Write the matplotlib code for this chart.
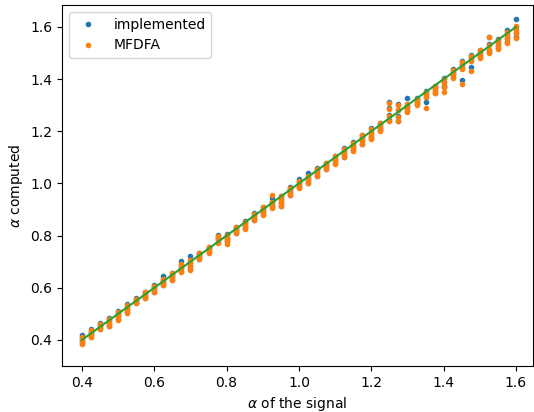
import matplotlib.pyplot as plt

# alpha values of the generated signals
alphas = [0.4 + 0.025 * i for i in range(49)]

# estimated alpha, our implementation (several signals per alpha)
implemented = [
    [0.388, 0.398, 0.410, 0.420], [0.413, 0.422, 0.432, 0.440], [0.442, 0.450, 0.458, 0.465],
    [0.455, 0.465, 0.475, 0.485], [0.482, 0.492, 0.502, 0.510], [0.508, 0.518, 0.527, 0.536],
    [0.541, 0.547, 0.553, 0.560], [0.562, 0.570, 0.578, 0.585], [0.585, 0.594, 0.602, 0.610],
    [0.612, 0.622, 0.630, 0.645], [0.630, 0.640, 0.650, 0.658], [0.665, 0.675, 0.685, 0.702],
    [0.672, 0.684, 0.698, 0.720], [0.712, 0.720, 0.728, 0.735], [0.736, 0.744, 0.752, 0.758],
    [0.774, 0.786, 0.794, 0.802], [0.778, 0.785, 0.795, 0.806], [0.810, 0.818, 0.826, 0.834],
    [0.828, 0.838, 0.847, 0.855], [0.860, 0.868, 0.878, 0.886], [0.882, 0.892, 0.902, 0.910],
    [0.908, 0.918, 0.930, 0.945], [0.915, 0.928, 0.940, 0.952], [0.957, 0.967, 0.977, 0.985],
    [0.985, 0.995, 1.004, 1.018], [1.003, 1.013, 1.022, 1.040], [1.030, 1.040, 1.050, 1.058],
    [1.057, 1.064, 1.072, 1.080], [1.078, 1.088, 1.098, 1.106], [1.103, 1.113, 1.125, 1.134],
    [1.128, 1.138, 1.148, 1.158], [1.153, 1.165, 1.177, 1.187], [1.173, 1.183, 1.198, 1.212],
    [1.203, 1.213, 1.223, 1.232], [1.243, 1.263, 1.288, 1.312], [1.241, 1.258, 1.283, 1.305],
    [1.278, 1.288, 1.298, 1.326], [1.303, 1.312, 1.320, 1.328], [1.314, 1.332, 1.342, 1.353],
    [1.348, 1.358, 1.367, 1.375], [1.370, 1.373, 1.388, 1.403], [1.408, 1.418, 1.428, 1.438],
    [1.395, 1.443, 1.458, 1.468], [1.447, 1.472, 1.483, 1.493], [1.483, 1.493, 1.503, 1.513],
    [1.503, 1.513, 1.533, 1.562], [1.518, 1.530, 1.543, 1.552], [1.543, 1.558, 1.573, 1.590],
    [1.560, 1.578, 1.600, 1.632],
]

# estimated alpha, MFDFA package
mfdfa = [
    [0.385, 0.395, 0.405, 0.412], [0.410, 0.420, 0.430, 0.438], [0.440, 0.448, 0.456, 0.462],
    [0.452, 0.462, 0.472, 0.482], [0.478, 0.488, 0.498, 0.508], [0.505, 0.515, 0.524, 0.532],
    [0.540, 0.546, 0.552, 0.557], [0.560, 0.568, 0.576, 0.582], [0.582, 0.592, 0.600, 0.606],
    [0.610, 0.620, 0.628, 0.634], [0.628, 0.638, 0.648, 0.656], [0.662, 0.672, 0.682, 0.690],
    [0.668, 0.680, 0.694, 0.708], [0.710, 0.718, 0.726, 0.732], [0.734, 0.742, 0.750, 0.756],
    [0.772, 0.784, 0.792, 0.800], [0.768, 0.780, 0.792, 0.804], [0.808, 0.816, 0.824, 0.832],
    [0.825, 0.835, 0.845, 0.852], [0.858, 0.866, 0.876, 0.884], [0.880, 0.890, 0.900, 0.908],
    [0.905, 0.915, 0.928, 0.955], [0.912, 0.925, 0.938, 0.950], [0.955, 0.965, 0.975, 0.982],
    [0.982, 0.992, 1.000, 1.008], [1.000, 1.010, 1.020, 1.028], [1.028, 1.038, 1.048, 1.055],
    [1.055, 1.062, 1.070, 1.078], [1.075, 1.085, 1.095, 1.104], [1.100, 1.110, 1.122, 1.132],
    [1.125, 1.135, 1.145, 1.155], [1.150, 1.162, 1.175, 1.185], [1.170, 1.180, 1.195, 1.210],
    [1.200, 1.210, 1.220, 1.230], [1.240, 1.260, 1.285, 1.310], [1.238, 1.255, 1.280, 1.302],
    [1.275, 1.285, 1.295, 1.305], [1.300, 1.310, 1.318, 1.325], [1.288, 1.330, 1.340, 1.350],
    [1.345, 1.355, 1.365, 1.372], [1.350, 1.370, 1.385, 1.400], [1.405, 1.415, 1.425, 1.435],
    [1.380, 1.440, 1.455, 1.465], [1.430, 1.470, 1.480, 1.490], [1.480, 1.490, 1.500, 1.510],
    [1.500, 1.510, 1.530, 1.560], [1.515, 1.528, 1.540, 1.548], [1.540, 1.555, 1.570, 1.582],
    [1.556, 1.575, 1.590, 1.605],
]

x_impl = [a for a, row in zip(alphas, implemented) for _ in row]
y_impl = [v for row in implemented for v in row]
x_mf = [a for a, row in zip(alphas, mfdfa) for _ in row]
y_mf = [v for row in mfdfa for v in row]

fig = plt.figure(figsize=(5.34, 4.12), dpi=100)
ax = fig.add_axes([62 / 534, 1 - 366 / 412, 471 / 534, 361 / 412])

ax.plot(x_impl, y_impl, '.', label="implemented")
ax.plot(x_mf, y_mf, '.', label="MFDFA")
ax.plot([alphas[0], alphas[-1]], [alphas[0], alphas[-1]])

ax.set_xlim(0.345, 1.647)
ax.set_ylim(0.30, 1.684)
ax.set_xticks([0.4, 0.6, 0.8, 1.0, 1.2, 1.4, 1.6])
ax.set_xlabel(r"$\alpha$ of the signal")
ax.set_ylabel(r"$\alpha$ computed")
ax.legend(loc="upper left")

fig.savefig("out.png")
